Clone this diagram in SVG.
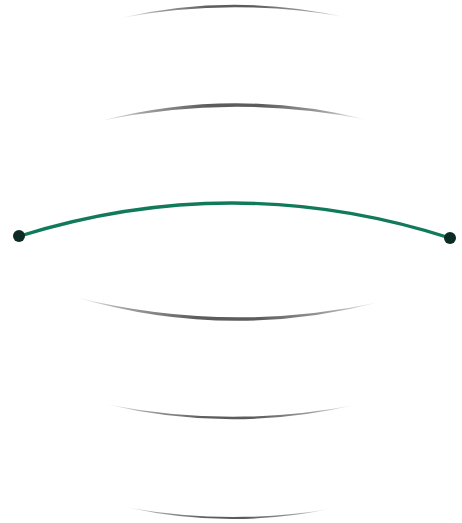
<svg xmlns="http://www.w3.org/2000/svg" width="462" height="523" viewBox="0 0 462 523">
  <defs>
    <linearGradient id="fade" x1="0" y1="0" x2="1" y2="0">
      <stop offset="0" stop-color="#4a4a4a" stop-opacity="0.05"/>
      <stop offset="0.15" stop-color="#4a4a4a" stop-opacity="0.5"/>
      <stop offset="0.4" stop-color="#4a4a4a" stop-opacity="0.9"/>
      <stop offset="0.6" stop-color="#4a4a4a" stop-opacity="0.9"/>
      <stop offset="0.85" stop-color="#4a4a4a" stop-opacity="0.5"/>
      <stop offset="1" stop-color="#4a4a4a" stop-opacity="0.05"/>
    </linearGradient>
  </defs>
  <style>
    .arc { fill: url(#fade); stroke: none; }
    .main { fill: none; stroke: #117a5b; stroke-width: 3.4; stroke-linecap: round; }
    .end { fill: #0c2b24; }
  </style>
  <rect width="462" height="523" fill="#ffffff"/>
  <g id="arcs">
    <path class="arc" d="M120 18 Q232 -8 345 17 Q232 -3 120 18 Z"/>
    <path class="arc" d="M100 121 Q234 86 368 120 Q234 93 100 121 Z"/>
    <path class="arc" d="M75 297 Q227 342 380 302 Q227 335 75 297 Z"/>
    <path class="arc" d="M105 404 Q230 434 355 405 Q230 429 105 404 Z"/>
    <path class="arc" d="M125 507 Q227 530 330 509 Q227 526 125 507 Z"/>
  </g>
  <g id="connector">
    <path class="main" d="M20 236 Q235 169 450 238"/>
    <circle class="end" cx="19" cy="236" r="6"/>
    <circle class="end" cx="450" cy="238" r="6"/>
  </g>
</svg>
